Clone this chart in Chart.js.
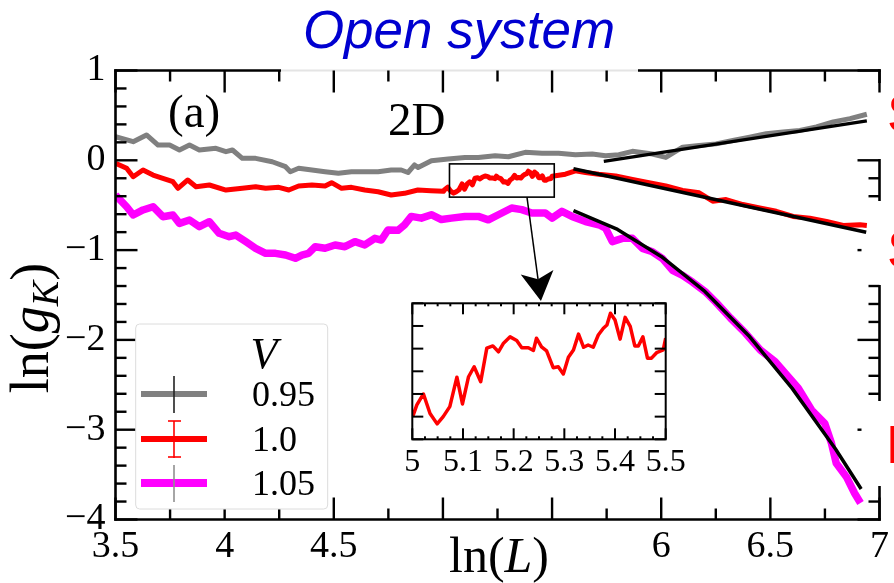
<!DOCTYPE html>
<html><head><meta charset="utf-8">
<script src="https://cdn.jsdelivr.net/npm/chart.js@4.4.1/dist/chart.umd.min.js"></script>
<style>
html,body{margin:0;padding:0;background:#fff;}
#wrap{position:relative;width:894px;height:583px;overflow:hidden;background:#fff;}
#main{position:absolute;left:0;top:0;}
#inset{position:absolute;left:380px;top:290px;}
</style></head><body>
<div id="wrap">
<canvas id="main" width="894" height="583"></canvas>
<canvas id="inset" width="310" height="200"></canvas>
</div>
<script>
// ---------- data ----------
const V_VALUES = ['0.95', '1.0', '1.05'];

const lnL_095 = [3.50,3.581,3.642,3.695,3.748,3.793,3.839,3.884,3.960,4.006,4.036,4.081,4.142,4.218,4.279,4.301,4.339,4.400,4.460,4.521,4.581,4.642,4.703,4.763,4.809,4.840,4.870,4.886,4.947,5.024,5.101,5.162,5.239,5.300,5.377,5.454,5.530,5.607,5.684,5.745,5.806,5.868,5.960,6.021,6.098,6.174,6.251,6.328,6.405,6.481,6.558,6.635,6.711,6.788,6.865,6.942];
const lnG_095 = [0.263,0.207,0.282,0.170,0.170,0.115,0.170,0.115,0.134,0.096,0.115,0.022,0.022,-0.016,-0.071,-0.127,-0.089,-0.108,-0.127,-0.145,-0.127,-0.127,-0.127,-0.108,-0.108,-0.136,-0.052,-0.080,-0.004,0.014,0.032,0.032,0.051,0.040,0.089,0.078,0.078,0.062,0.070,0.051,0.062,0.100,0.070,0.032,0.146,0.165,0.183,0.220,0.258,0.296,0.315,0.333,0.371,0.428,0.464,0.513];

const lnL_100 = [3.50,3.551,3.581,3.626,3.672,3.717,3.763,3.786,3.831,3.869,3.930,4.006,4.081,4.142,4.188,4.248,4.294,4.339,4.400,4.460,4.490,4.536,4.581,4.642,4.703,4.763,4.824,4.885,4.945,
 5.002,5.009,5.022,5.035,5.049,5.061,5.074,5.088,5.099,5.111,5.122,5.135,5.147,5.159,5.170,5.180,5.193,5.206,5.216,5.229,5.239,5.245,5.255,5.265,5.278,5.288,5.298,5.308,5.318,5.328,5.338,5.347,5.357,5.367,5.377,5.384,5.391,5.400,5.410,5.420,5.430,5.439,5.446,5.455,5.464,5.472,5.482,5.495,5.500,
 5.561,5.607,5.653,5.714,5.791,5.868,5.944,6.021,6.098,6.174,6.236,6.297,6.374,6.451,6.527,6.604,6.681,6.757,6.834,6.911,6.942];
const lnG_100 = [-0.033,-0.089,-0.183,-0.108,-0.164,-0.200,-0.238,-0.312,-0.219,-0.294,-0.275,-0.331,-0.312,-0.294,-0.312,-0.301,-0.331,-0.286,-0.275,-0.286,-0.249,-0.312,-0.301,-0.331,-0.350,-0.386,-0.368,-0.331,-0.339,
 -0.346,-0.324,-0.300,-0.343,-0.366,-0.350,-0.328,-0.263,-0.322,-0.262,-0.240,-0.273,-0.199,-0.194,-0.207,-0.188,-0.174,-0.182,-0.198,-0.198,-0.204,-0.177,-0.196,-0.205,-0.242,-0.240,-0.256,-0.219,-0.203,-0.168,-0.197,-0.192,-0.197,-0.170,-0.155,-0.148,-0.122,-0.137,-0.179,-0.131,-0.151,-0.194,-0.194,-0.174,-0.221,-0.221,-0.209,-0.203,-0.177,
 -0.155,-0.118,-0.136,-0.155,-0.174,-0.212,-0.249,-0.286,-0.335,-0.362,-0.455,-0.437,-0.493,-0.531,-0.568,-0.625,-0.644,-0.682,-0.726,-0.718,-0.726];

const lnL_105 = [3.50,3.551,3.581,3.626,3.672,3.717,3.763,3.793,3.839,3.884,3.930,3.975,4.021,4.051,4.097,4.142,4.188,4.233,4.279,4.324,4.354,4.384,4.415,4.460,4.506,4.551,4.597,4.642,4.688,4.718,4.748,4.794,4.824,4.855,4.901,4.947,4.993,5.039,5.101,5.162,5.208,5.254,5.315,5.361,5.407,5.469,5.500,5.545,5.591,5.653,5.714,5.745,5.776,5.822,5.868,5.914,5.960,6.006,6.052,6.098,6.144,6.205,6.251,6.317,6.385,6.454,6.522,6.628,6.689,6.749,6.780,6.802,6.848,6.886,6.913];
const lnG_105 = [-0.386,-0.517,-0.609,-0.553,-0.517,-0.628,-0.609,-0.702,-0.665,-0.739,-0.684,-0.813,-0.851,-0.832,-0.906,-0.980,-1.036,-1.036,-1.055,-1.091,-1.055,-1.036,-0.962,-0.980,-0.943,-0.962,-0.906,-0.943,-0.869,-0.888,-0.776,-0.780,-0.718,-0.625,-0.644,-0.606,-0.660,-0.644,-0.625,-0.625,-0.663,-0.606,-0.531,-0.549,-0.587,-0.587,-0.644,-0.568,-0.625,-0.682,-0.718,-0.756,-0.906,-0.869,-0.869,-0.981,-1.019,-1.095,-1.226,-1.282,-1.357,-1.470,-1.582,-1.756,-1.923,-2.112,-2.243,-2.539,-2.781,-2.929,-3.151,-3.374,-3.523,-3.708,-3.816];

// fitted black lines
const fitL_095 = [5.737, 6.942];
const fitG_095 = [-0.012, 0.439];
const fitL_100 = [5.598, 6.939];
const fitG_100 = [-0.095, -0.802];
const fitL_105 = [5.598, 5.80, 6.00, 6.20, 6.40, 6.60, 6.80, 6.916];
const fitG_105 = [-0.561, -0.77, -1.07, -1.46, -1.95, -2.54, -3.22, -3.66];

// axis ticks
const X_MAIN = {min: 3.5, max: 7, step: 0.5, hidden: [5, 5.5]};
const Y_MAIN = {min: -4, max: 1, step: 1};
const X_INSET = {min: 5, max: 5.5, step: 0.1};
const Y_INSET = {min: -0.4, max: -0.1, step: 0.05};

// ---------- helpers ----------
const pts = (xs, ys) => xs.map((v, i) => ({x: v, y: ys[i]}));
const fmt = v => { const r = Math.round(v * 100) / 100; return r < 0 ? '\u2212' + Math.abs(r) : String(r); };
const SERIF = '"Liberation Serif", "Times New Roman", serif';
function ln(ctx, x1, y1, x2, y2) { ctx.beginPath(); ctx.moveTo(x1, y1); ctx.lineTo(x2, y2); ctx.stroke(); }

const SERIES_COLORS = ['#808080', '#ff0000', '#ff00ff'];

// ---------- main chart decorations ----------
const mainDeco = {
  id: 'mainDeco',
  afterDatasetsDraw(chart) {
    const {ctx, chartArea: a, scales: {x, y}} = chart;
    const L = a.left, R = a.right, T = a.top, B = a.bottom;
    ctx.save();
    ctx.lineCap = 'butt';
    // frame
    ctx.strokeStyle = '#000'; ctx.lineWidth = 2.6;
    ln(ctx, L, T - 1.3, L, B + 1.3);
    ln(ctx, L - 1.3, B, R + 1.3, B);
    ln(ctx, L - 1.3, T, 281, T);
    ln(ctx, 638, T, R + 1.3, T);
    ctx.strokeStyle = '#e4e4e4'; ctx.lineWidth = 2;
    ln(ctx, 281, T, 638, T);
    ctx.strokeStyle = '#000'; ctx.lineWidth = 2.6;
    const rightSegs = [[T - 1.3, 83], [159, 201], [285, 401], [486, B + 1.3]];
    rightSegs.forEach(s => ln(ctx, R, s[0], R, s[1]));
    const vis = py => rightSegs.some(s => py >= s[0] - 0.5 && py <= s[1] + 0.5);
    // x ticks
    ctx.lineWidth = 2.4;
    for (let k = 0; k <= 14; k++) {
      const v = X_MAIN.min + k * 0.25, px = x.getPixelForValue(v);
      const len = (k % 2 === 0) ? 22 : 11;
      ln(ctx, px, B, px, B - len);
      ln(ctx, px, T, px, T + len);
    }
    // y ticks
    for (let k = 0; k <= 25; k++) {
      const v = Y_MAIN.min + k * 0.2, py = y.getPixelForValue(v);
      const major = k % 5 === 0, len = major ? 22 : 11;
      ln(ctx, L, py, L + len, py);
      if (vis(py)) ln(ctx, R, py, R - len, py);
      else if (major) ln(ctx, R - 22, py, R - 18, py);
    }
    // zoom rectangle
    ctx.lineWidth = 1.6;
    const rx1 = x.getPixelForValue(5.03), rx2 = x.getPixelForValue(5.51);
    const ry1 = y.getPixelForValue(-0.04), ry2 = y.getPixelForValue(-0.41);
    ctx.strokeRect(rx1, ry1, rx2 - rx1, ry2 - ry1);
    // arrow
    const sx = x.getPixelForValue(5.385), sy = y.getPixelForValue(-0.409);
    const tx = x.getPixelForValue(5.449), ty = y.getPixelForValue(-1.567);
    const dx = tx - sx, dy = ty - sy, d = Math.hypot(dx, dy), ux = dx / d, uy = dy / d;
    const nx = tx - 22 * ux, ny = ty - 22 * uy;
    ctx.lineWidth = 1.5;
    ln(ctx, sx, sy, nx, ny);
    const bx = tx - 29 * ux, by = ty - 29 * uy;
    ctx.fillStyle = '#000';
    ctx.beginPath();
    ctx.moveTo(tx, ty);
    ctx.lineTo(bx + 16.5 * (-uy), by + 16.5 * ux);
    ctx.lineTo(nx, ny);
    ctx.lineTo(bx - 16.5 * (-uy), by - 16.5 * ux);
    ctx.closePath(); ctx.fill();

    // legend box
    ctx.fillStyle = '#fff'; ctx.strokeStyle = '#dcdcdc'; ctx.lineWidth = 1;
    ctx.beginPath(); ctx.roundRect(135.7, 324, 192, 185, 4); ctx.fill(); ctx.stroke();
    ctx.fillStyle = '#000';
    ctx.font = 'italic 44px ' + SERIF; ctx.textAlign = 'center'; ctx.textBaseline = 'alphabetic';
    ctx.fillText('V', 264, 368);
    const ly = [394, 439, 483], lw = [6, 6, 8];
    const barCol = ['#222', '#ff0000', '#909090'];
    for (let i = 0; i < 3; i++) {
      ctx.strokeStyle = SERIES_COLORS[i]; ctx.lineWidth = lw[i];
      ln(ctx, 141, ly[i], 207, ly[i]);
      ctx.strokeStyle = barCol[i]; ctx.lineWidth = 1.6;
      ln(ctx, 174, ly[i] - 18, 174, ly[i] + 19);
      if (i === 1) { ln(ctx, 168, ly[i] - 18, 181, ly[i] - 18); ln(ctx, 168, ly[i] + 18, 181, ly[i] + 18); }
      ctx.fillStyle = '#000'; ctx.font = '36px ' + SERIF; ctx.textAlign = 'left'; ctx.textBaseline = 'middle';
      ctx.fillText(V_VALUES[i], 252, ly[i] + 3);
    }
    // panel texts
    ctx.font = '47px ' + SERIF; ctx.textAlign = 'left'; ctx.textBaseline = 'alphabetic';
    ctx.fillText('(a)', 168, 127);
    ctx.fillText('2D', 388, 135);
    // title
    ctx.fillStyle = '#0000d0'; ctx.font = 'italic 53px "Liberation Sans", Arial, sans-serif'; ctx.textAlign = 'center';
    ctx.fillText('Open system', 459, 48);
    // cut-off red labels at right edge
    ctx.fillStyle = '#ff0000'; ctx.font = '54px "Liberation Sans", Arial, sans-serif'; ctx.textAlign = 'left';
    ctx.fillText('S', 887, 132);
    ctx.fillText('S', 887, 268);
    ctx.fillText('E', 886, 463);
    // x axis title ln(L)
    ctx.fillStyle = '#000';
    const xparts = [['ln(', '50px '], ['L', 'italic 50px '], [')', '50px ']];
    let w = 0; xparts.forEach(p => { ctx.font = p[1] + SERIF; w += ctx.measureText(p[0]).width; });
    let cx = 499 - w / 2;
    xparts.forEach(p => { ctx.font = p[1] + SERIF; ctx.fillText(p[0], cx, 572); cx += ctx.measureText(p[0]).width; });
    // y axis title ln(g_K)
    ctx.save(); ctx.translate(32, 328); ctx.rotate(-Math.PI / 2);
    const yparts = [['ln(', '54px ', 0], ['g', 'italic 54px ', 0], ['K', 'italic 38px ', 10], [')', '54px ', 0]];
    w = 0; yparts.forEach(p => { ctx.font = p[1] + SERIF; w += ctx.measureText(p[0]).width; });
    cx = -w / 2;
    yparts.forEach(p => { ctx.font = p[1] + SERIF; ctx.fillText(p[0], cx, 16 + p[2]); cx += ctx.measureText(p[0]).width; });
    ctx.restore();
    ctx.restore();
  }
};

const fixW = w => s => { s.width = w; };
const fixH = h => s => { s.height = h; };

new Chart(document.getElementById('main'), {
  type: 'line',
  data: {
    datasets: [
      {label: 'fit 0.95', data: pts(fitL_095, fitG_095), borderColor: '#000', borderWidth: 3.5, order: 0},
      {label: 'fit 1.0', data: pts(fitL_100, fitG_100), borderColor: '#000', borderWidth: 3.5, order: 0},
      {label: 'fit 1.05', data: pts(fitL_105, fitG_105), borderColor: '#000', borderWidth: 3.5, order: 0},
      {label: V_VALUES[0], data: pts(lnL_095, lnG_095), borderColor: SERIES_COLORS[0], borderWidth: 5, order: 3},
      {label: V_VALUES[1], data: pts(lnL_100, lnG_100), borderColor: SERIES_COLORS[1], borderWidth: 5, order: 2},
      {label: V_VALUES[2], data: pts(lnL_105, lnG_105), borderColor: SERIES_COLORS[2], borderWidth: 7.5, order: 1}
    ]
  },
  options: {
    responsive: false, animation: false, devicePixelRatio: 1,
    layout: {padding: {left: 0, top: 70.5, right: 9, bottom: 0}},
    elements: {point: {radius: 0}, line: {tension: 0, borderJoinStyle: 'round', borderCapStyle: 'butt', fill: false}},
    plugins: {legend: {display: false}, tooltip: {enabled: false}, title: {display: false}},
    scales: {
      x: {type: 'linear', min: X_MAIN.min, max: X_MAIN.max, afterFit: fixH(63.5),
        grid: {display: false, drawTicks: false}, border: {display: false},
        ticks: {stepSize: X_MAIN.step, autoSkip: false, maxRotation: 0, padding: 5, color: '#000',
          font: {family: 'Liberation Serif', size: 38},
          callback: v => X_MAIN.hidden.some(h => Math.abs(h - v) < 1e-6) ? '' : fmt(v)}},
      y: {type: 'linear', min: Y_MAIN.min, max: Y_MAIN.max, afterFit: fixW(115.5),
        grid: {display: false, drawTicks: false}, border: {display: false},
        ticks: {stepSize: Y_MAIN.step, autoSkip: false, padding: 10, color: '#000',
          font: {family: 'Liberation Serif', size: 38}, callback: v => fmt(v)}}
    }
  },
  plugins: [mainDeco]
});

// ---------- inset ----------
const insetDeco = {
  id: 'insetDeco',
  beforeDatasetsDraw(chart) {
    const {ctx, chartArea: a} = chart;
    ctx.save(); ctx.fillStyle = '#fff'; ctx.fillRect(a.left, a.top, a.right - a.left, a.bottom - a.top); ctx.restore();
  },
  afterDatasetsDraw(chart) {
    const {ctx, chartArea: a, scales: {x, y}} = chart;
    const L = a.left, R = a.right, T = a.top, B = a.bottom;
    ctx.save(); ctx.strokeStyle = '#000'; ctx.lineWidth = 2;
    ctx.strokeRect(L, T, R - L, B - T);
    for (let k = 0; k <= 20; k++) {
      const px = x.getPixelForValue(X_INSET.min + k * 0.025);
      const len = (k % 4 === 0) ? 11 : 3;
      ln(ctx, px, B, px, B - len); ln(ctx, px, T, px, T + len);
    }
    for (let k = 0; k <= 6; k++) {
      const py = y.getPixelForValue(Y_INSET.min + k * Y_INSET.step);
      ln(ctx, L, py, L + 11, py); ln(ctx, R, py, R - 11, py);
    }
    ctx.restore();
  }
};

new Chart(document.getElementById('inset'), {
  type: 'line',
  data: {datasets: [{label: V_VALUES[1], data: pts(lnL_100, lnG_100), borderColor: '#ff0000', borderWidth: 3.5, clip: 0}]},
  options: {
    responsive: false, animation: false, devicePixelRatio: 1,
    layout: {padding: {left: 0, top: 13.3, right: 24.3, bottom: 0}},
    elements: {point: {radius: 0}, line: {tension: 0, borderJoinStyle: 'round', fill: false}},
    plugins: {legend: {display: false}, tooltip: {enabled: false}},
    scales: {
      x: {type: 'linear', min: X_INSET.min, max: X_INSET.max, afterFit: fixH(50.7),
        grid: {display: false, drawTicks: false}, border: {display: false},
        ticks: {stepSize: X_INSET.step, autoSkip: false, maxRotation: 0, padding: 4, color: '#000',
          font: {family: 'Liberation Serif', size: 32}, callback: v => fmt(v)}},
      y: {type: 'linear', min: Y_INSET.min, max: Y_INSET.max, afterFit: fixW(32.3),
        grid: {display: false, drawTicks: false}, border: {display: false},
        ticks: {display: false, stepSize: Y_INSET.step}}
    }
  },
  plugins: [insetDeco]
});
</script>
</body></html>
